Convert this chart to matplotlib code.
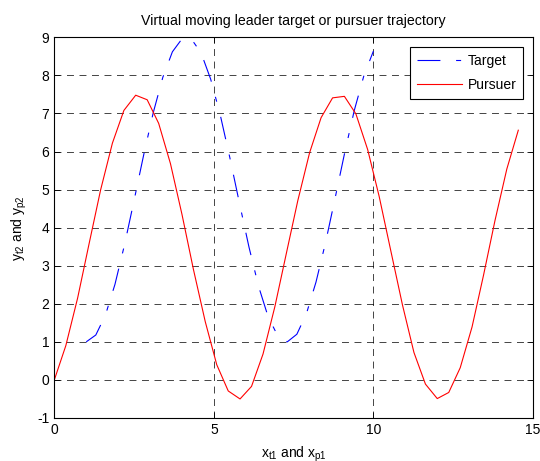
import numpy as np
import matplotlib.pyplot as plt

plt.rcParams['font.family'] = ['Liberation Sans', 'DejaVu Sans']
plt.rcParams['lines.scale_dashes'] = False
plt.rcParams['axes.unicode_minus'] = False

# Target trajectory
x_target = [1.0, 1.3, 1.6, 1.9, 2.2, 2.5, 2.8, 3.1, 3.4, 3.7, 4.0, 4.3, 4.6, 4.9,
            5.2, 5.5, 5.8, 6.1, 6.4, 6.7, 7.0, 7.3, 7.6, 7.9, 8.2, 8.5, 8.8, 9.1,
            9.4, 9.7, 10.0]
y_target = [1.00, 1.18, 1.70, 2.51, 3.55, 4.72, 5.91, 7.02, 7.95, 8.62, 8.96, 8.95,
            8.59, 7.90, 6.96, 5.84, 4.65, 3.49, 2.46, 1.66, 1.16, 1.00, 1.20, 1.74,
            2.57, 3.61, 4.78, 5.97, 7.08, 7.99, 8.64]

# Pursuer trajectory
x_pursuer = [0.0, 0.36, 0.73, 1.09, 1.45, 1.82, 2.18, 2.55, 2.91, 3.27, 3.64, 4.0,
             4.36, 4.73, 5.09, 5.45, 5.82, 6.18, 6.54, 6.91, 7.27, 7.63, 8.0, 8.36,
             8.72, 9.09, 9.45, 9.82, 10.18, 10.54, 10.91, 11.27, 11.63, 12.0, 12.36,
             12.72, 13.09, 13.45, 13.81, 14.18, 14.54]
y_pursuer = [0.0, 0.90, 2.15, 3.58, 4.99, 6.22, 7.08, 7.48, 7.36, 6.74, 5.68, 4.35,
             2.90, 1.53, 0.40, -0.29, -0.50, -0.17, 0.68, 1.92, 3.32, 4.71, 5.97, 6.89,
             7.41, 7.45, 6.99, 6.05, 4.82, 3.41, 1.97, 0.72, -0.11, -0.49, -0.33, 0.32,
             1.39, 2.75, 4.19, 5.54, 6.56]

fig = plt.figure(figsize=(5.4, 4.61), dpi=100)
ax = fig.add_axes([0.1006, 0.0933, 0.8864, 0.8257])

ax.plot(x_target, y_target, color='blue', lw=0.8, dashes=[16.5, 11.3, 3.6, 11.3],
        label='Target')
ax.plot(x_pursuer, y_pursuer, color='red', lw=0.8, label='Pursuer')

ax.set_xlim(0, 15)
ax.set_ylim(-1, 9)
ax.set_xticks([0, 5, 10, 15])
ax.set_yticks(range(-1, 10))
ax.tick_params(direction='in', top=True, right=True, labelsize=10, length=4, width=0.6)
ax.grid(True, color='black', linestyle=(0, (5, 4)), linewidth=0.6, alpha=0.85)
for s in ax.spines.values():
    s.set_linewidth(0.8)

ax.set_title('Virtual moving leader target or pursuer trajectory', fontsize=10.2, pad=9)
ax.set_xlabel('x$_{\\mathregular{t1}}$ and x$_{\\mathregular{p1}}$', fontsize=10, labelpad=6)
ax.set_ylabel('y$_{\\mathregular{t2}}$ and y$_{\\mathregular{p2}}$', fontsize=10, labelpad=6)

leg = ax.legend(loc='upper right', fontsize=10, handlelength=3.2, fancybox=False,
                framealpha=1, edgecolor='black', borderaxespad=0.7,
                handletextpad=0.4, borderpad=0.5, labelspacing=0.7)
leg.get_frame().set_linewidth(0.8)

fig.savefig('out.png', dpi=100)
